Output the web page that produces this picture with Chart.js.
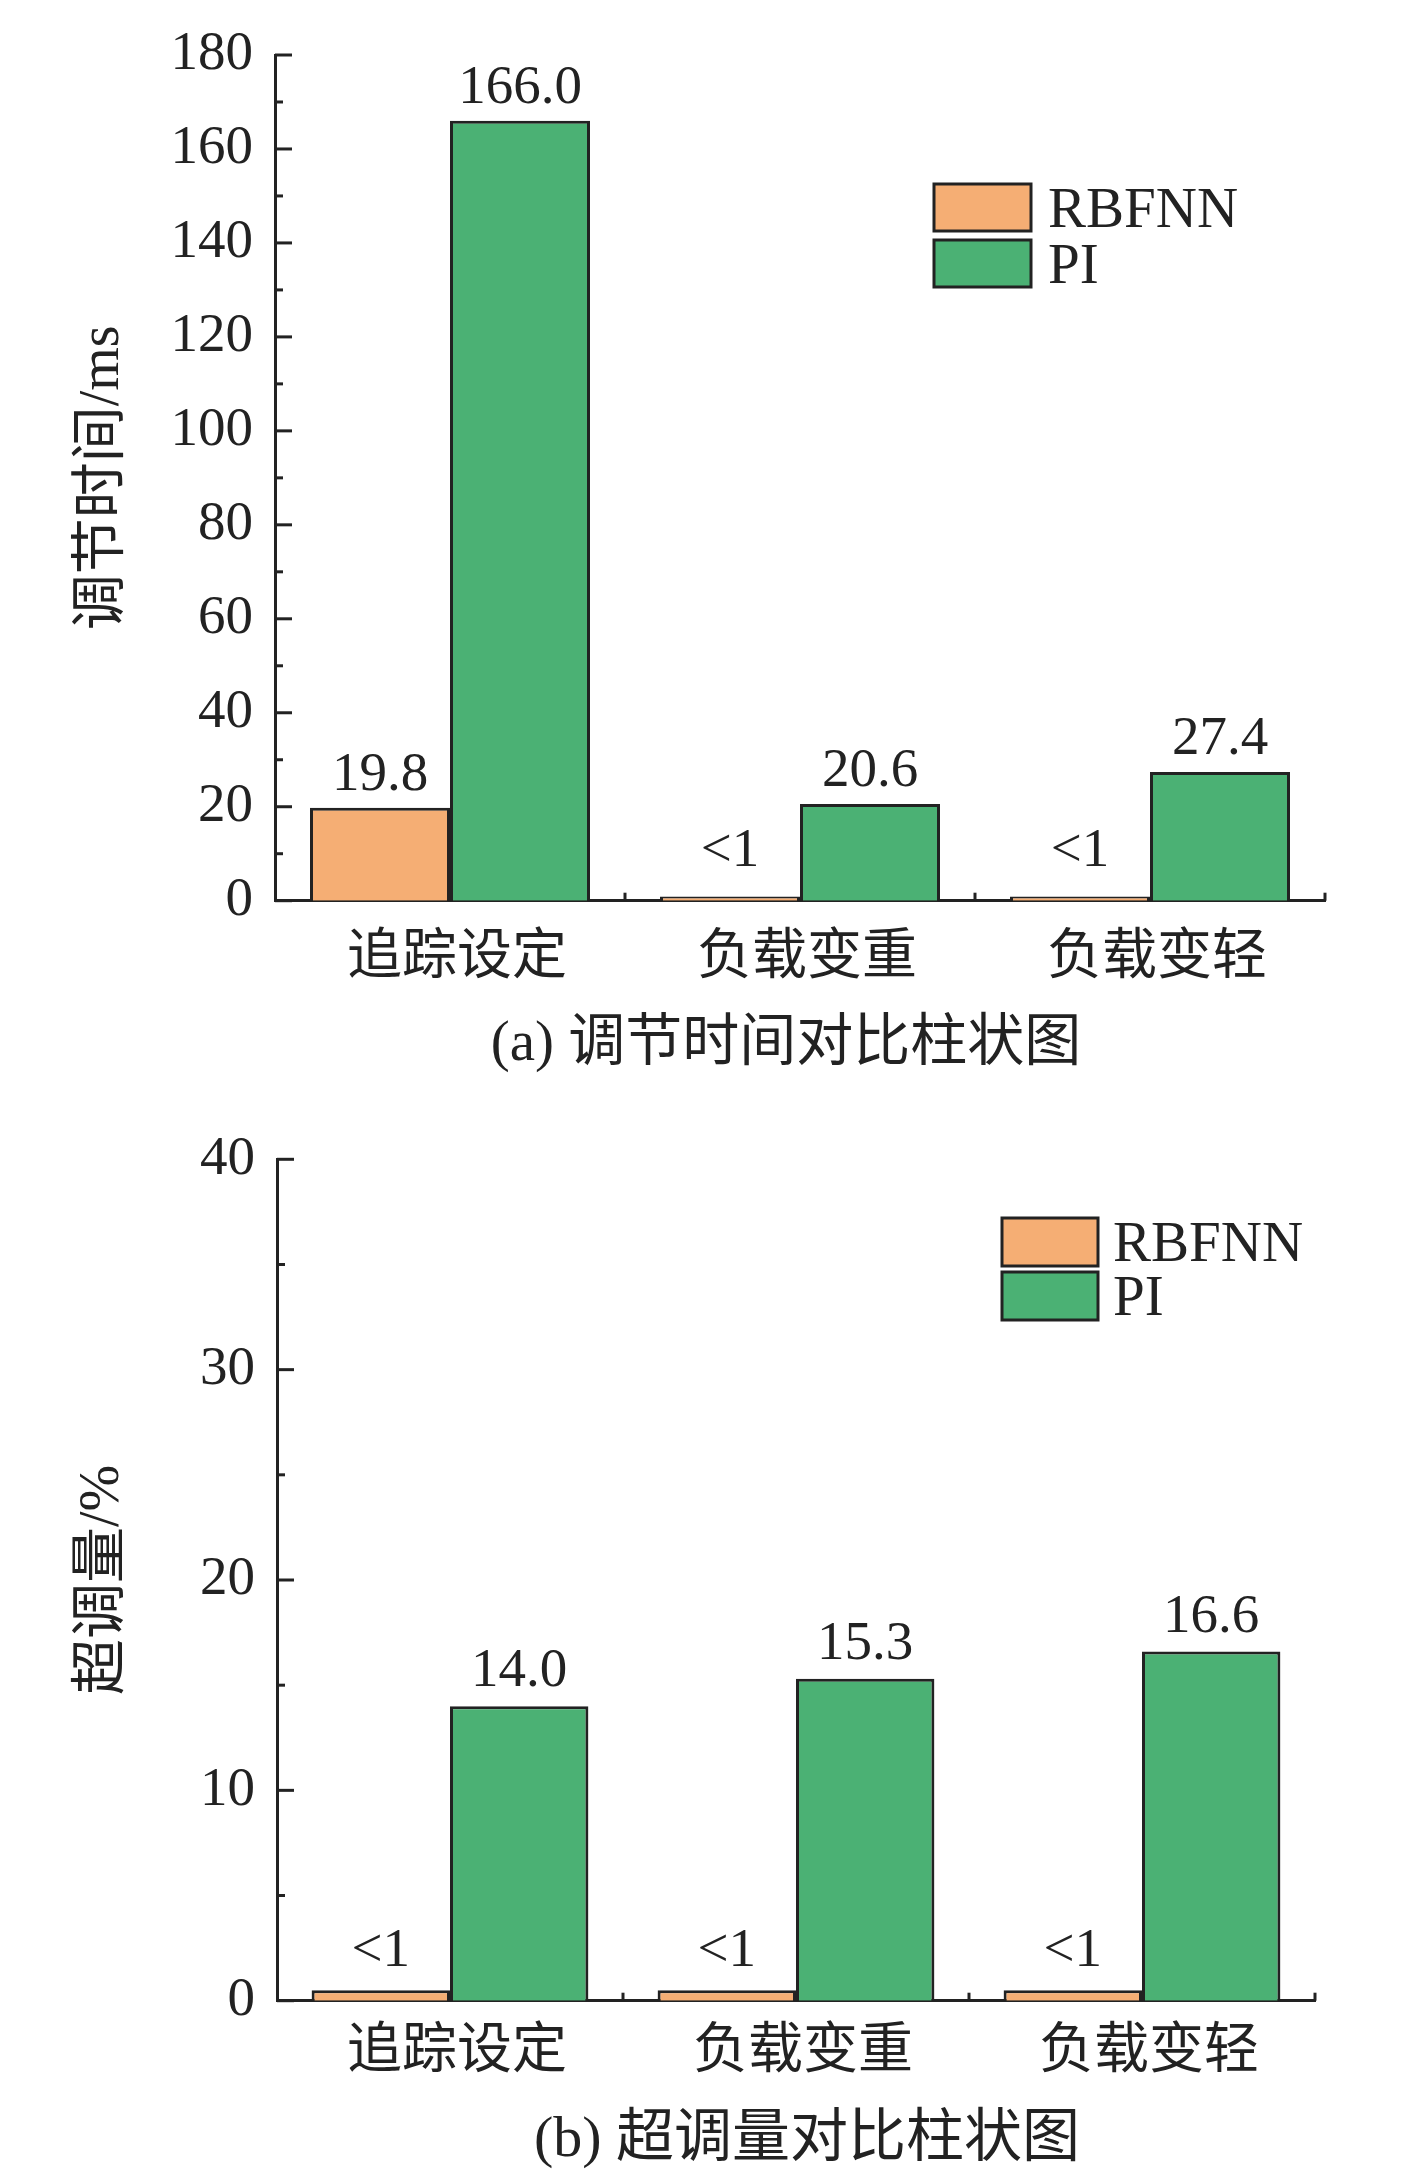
<!DOCTYPE html>
<html>
<head>
<meta charset="utf-8">
<script src="https://cdn.jsdelivr.net/npm/chart.js@4.4.1/dist/chart.umd.min.js"></script>
<style>
  html, body { margin: 0; padding: 0; background: #fff; }
  body { width: 1427px; height: 2184px; position: relative; overflow: hidden; }
  .panel { position: absolute; left: 0; width: 1427px; height: 1000px; }
  .caption {
    position: absolute; white-space: nowrap; color: #222; line-height: 1;
    font-family: 'Liberation Serif', 'Noto Sans CJK SC', serif;
    transform: translate(-50%, -50%);
  }
</style>
</head>
<body>
<div class="panel" style="top:0"><canvas id="chartA"></canvas></div>
<div class="panel" style="top:1100px"><canvas id="chartB"></canvas></div>
<div class="caption" style="left:786px; top:1040px; font-size:57px">(a) 调节时间对比柱状图</div>
<div class="caption" style="left:807px; top:2137px; font-size:58px">(b) 超调量对比柱状图</div>

<script>
// data
const categories = ['追踪设定', '负载变重', '负载变轻'];
const seriesNames = ['RBFNN', 'PI'];

const settleRbfnn = [19.8, 0.9, 0.9];
const settlePi = [166.0, 20.6, 27.4];
const settleTicks = [0, 20, 40, 60, 80, 100, 120, 140, 160, 180];

const overRbfnn = [0.5, 0.5, 0.5];
const overPi = [14.0, 15.3, 16.6];
const overTicks = [0, 10, 20, 30, 40];

const ORANGE = '#F5AE74';
const GREEN = '#4BB174';
const INK = '#222';
const SERIF = "'Liberation Serif', 'Noto Sans CJK SC', serif";

function valueText(v) {
  return v < 1 ? '<1' : v.toFixed(1);
}

// inward ticks, value labels and the boxed legend
const decor = {
  id: 'decor',
  afterDatasetsDraw(chart, args, opts) {
    const ctx = chart.ctx;
    const area = chart.chartArea;
    const xs = chart.scales.x;
    const ys = chart.scales.y;

    ctx.save();
    ctx.strokeStyle = INK;
    ctx.lineWidth = 3;
    const seg = (x1, y1, x2, y2) => {
      ctx.beginPath(); ctx.moveTo(x1, y1); ctx.lineTo(x2, y2); ctx.stroke();
    };

    const ticks = ys.ticks;
    ticks.forEach((t, i) => {
      const py = ys.getPixelForValue(t.value);
      seg(area.left, py, area.left + 17, py);
      if (i < ticks.length - 1) {
        const my = ys.getPixelForValue((t.value + ticks[i + 1].value) / 2);
        seg(area.left, my, area.left + 8, my);
      }
    });

    const n = chart.data.labels.length;
    for (let i = 0; i < n; i++) {
      const bx = i < n - 1
        ? (xs.getPixelForValue(i) + xs.getPixelForValue(i + 1)) / 2
        : area.right;
      seg(bx, area.bottom, bx, area.bottom - 8);
    }

    ctx.fillStyle = INK;
    ctx.font = '55px ' + SERIF;
    ctx.textAlign = 'center';
    ctx.textBaseline = 'alphabetic';
    chart.data.datasets.forEach((ds, di) => {
      chart.getDatasetMeta(di).data.forEach((bar, j) => {
        const v = ds.data[j];
        const gap = v < 1 ? opts.smallGap : opts.gap;
        ctx.fillText(valueText(v), bar.x, bar.y - gap);
      });
    });

    const lg = opts.legend;
    ctx.font = '57px ' + SERIF;
    ctx.textAlign = 'left';
    chart.data.datasets.forEach((ds, di) => {
      const top = lg.y + di * lg.pitch;
      ctx.fillStyle = ds.backgroundColor;
      ctx.fillRect(lg.x, top, lg.w, lg.h);
      ctx.strokeRect(lg.x, top, lg.w, lg.h);
      ctx.fillStyle = INK;
      ctx.fillText(ds.label, lg.x + lg.w + lg.textGap, top + lg.h / 2 + 19);
    });
    ctx.restore();
  }
};

function makeChart(id, rbfnn, pi, yTicks, yTitle, cfg) {
  return new Chart(document.getElementById(id), {
    type: 'bar',
    data: {
      labels: categories,
      datasets: [
        { label: seriesNames[0], data: rbfnn, backgroundColor: ORANGE },
        { label: seriesNames[1], data: pi, backgroundColor: GREEN }
      ]
    },
    options: {
      responsive: true,
      maintainAspectRatio: false,
      animation: false,
      layout: { padding: cfg.padding },
      datasets: {
        bar: {
          categoryPercentage: 0.8,
          barPercentage: 1.0,
          borderColor: INK,
          borderWidth: 3
        }
      },
      plugins: {
        legend: { display: false },
        tooltip: { enabled: false },
        decor: { gap: cfg.gap, smallGap: cfg.smallGap, legend: cfg.legend }
      },
      scales: {
        x: {
          grid: { display: false, drawTicks: false },
          border: { display: true, width: 3, color: INK },
          ticks: {
            color: INK,
            padding: cfg.xPad,
            labelOffset: 7,
            maxRotation: 0,
            autoSkip: false,
            font: { family: SERIF, size: 55 }
          },
          afterFit(scale) { scale.height = cfg.xHeight; }
        },
        y: {
          min: yTicks[0],
          max: yTicks[yTicks.length - 1],
          grid: { display: false, drawTicks: false },
          border: { display: true, width: 3, color: INK },
          ticks: {
            color: INK,
            padding: 22,
            font: { family: SERIF, size: 55 }
          },
          afterBuildTicks(scale) {
            scale.ticks = yTicks.map(v => ({ value: v }));
          },
          title: {
            display: true,
            text: yTitle,
            color: INK,
            font: { family: SERIF, size: 56 },
            padding: { top: 70, bottom: 0 }
          },
          afterFit(scale) { scale.width = cfg.yWidth; }
        }
      }
    },
    plugins: [decor]
  });
}

makeChart('chartA', settleRbfnn, settlePi, settleTicks, '调节时间/ms', {
  padding: { left: 0, top: 54.7, right: 102, bottom: 0 },
  xHeight: 99.3,
  xPad: 25,
  yWidth: 275,
  gap: 18,
  smallGap: 30,
  legend: { x: 934, y: 184, w: 97, h: 47, pitch: 56, textGap: 17 }
});

makeChart('chartB', overRbfnn, overPi, overTicks, '超调量/%', {
  padding: { left: 0, top: 59.3, right: 112, bottom: 0 },
  xHeight: 99.3,
  xPad: 19,
  yWidth: 277,
  gap: 20,
  smallGap: 24,
  legend: { x: 1002, y: 118, w: 96, h: 48, pitch: 54, textGap: 15 }
});
</script>
</body>
</html>
